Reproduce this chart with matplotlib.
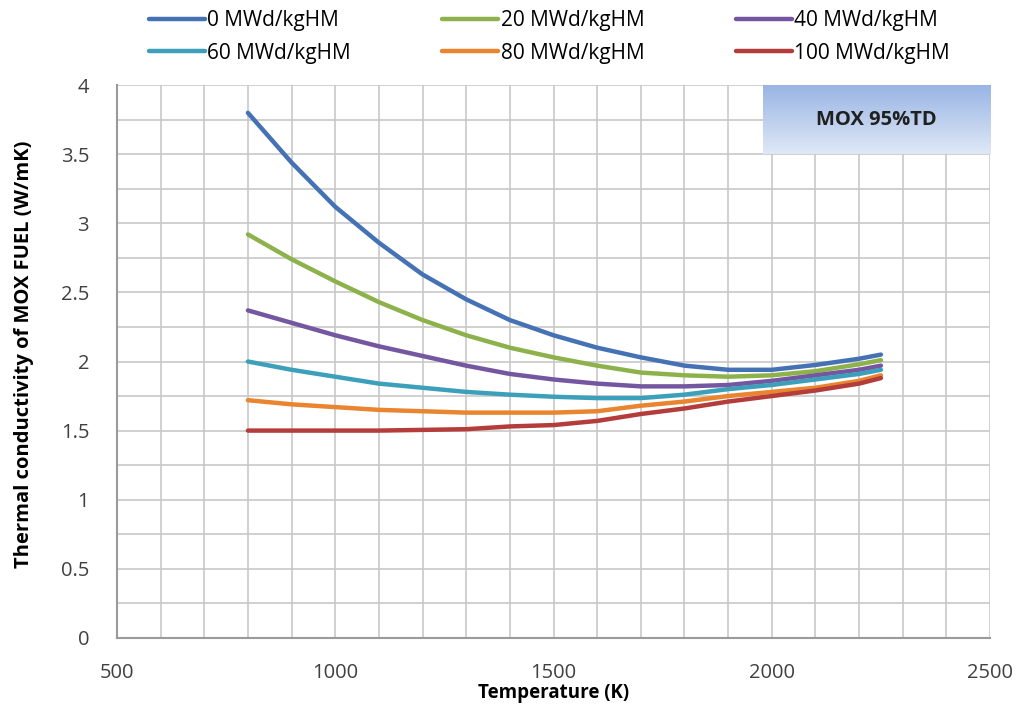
import numpy as np
import matplotlib
matplotlib.use('Agg')
import matplotlib.pyplot as plt
from matplotlib.colors import LinearSegmentedColormap

plt.rcParams['font.family'] = ['Open Sans', 'DejaVu Sans']

# temperatures (K) and conductivity (W/mK)
temps = [800, 900, 1000, 1100, 1200, 1300, 1400, 1500,
         1600, 1700, 1800, 1900, 2000, 2100, 2200, 2250]
k_0 = [3.80, 3.44, 3.12, 2.86, 2.63, 2.45, 2.30, 2.19,
       2.10, 2.03, 1.97, 1.94, 1.94, 1.975, 2.02, 2.05]
k_20 = [2.92, 2.74, 2.58, 2.43, 2.30, 2.19, 2.10, 2.03,
        1.97, 1.92, 1.90, 1.89, 1.90, 1.93, 1.98, 2.01]
k_40 = [2.37, 2.28, 2.19, 2.11, 2.04, 1.97, 1.91, 1.87,
        1.84, 1.82, 1.82, 1.83, 1.86, 1.90, 1.94, 1.97]
k_60 = [2.00, 1.94, 1.89, 1.84, 1.81, 1.78, 1.76, 1.745,
        1.735, 1.735, 1.76, 1.80, 1.83, 1.87, 1.91, 1.94]
k_80 = [1.72, 1.69, 1.67, 1.65, 1.64, 1.63, 1.63, 1.63,
        1.64, 1.68, 1.71, 1.75, 1.78, 1.81, 1.86, 1.90]
k_100 = [1.50, 1.50, 1.50, 1.50, 1.505, 1.51, 1.53, 1.54,
         1.57, 1.62, 1.66, 1.71, 1.75, 1.79, 1.84, 1.88]

labels = ['0 MWd/kgHM', '20 MWd/kgHM', '40 MWd/kgHM',
          '60 MWd/kgHM', '80 MWd/kgHM', '100 MWd/kgHM']
colors = ['#4472b4', '#8db24c', '#7457a0', '#3ca0ba', '#e9842f', '#b43c3a']
series = [k_0, k_20, k_40, k_60, k_80, k_100]

fig = plt.figure(figsize=(10.17, 7.04), dpi=100)
ax = fig.add_axes([0.115, 0.094, 0.8585, 0.785])

lines = []
for ys, c, lab in zip(series, colors, labels):
    ln, = ax.plot(temps, ys, color=c, lw=3.2, label=lab, solid_capstyle='round',
                  solid_joinstyle='round', zorder=4)
    lines.append(ln)

ax.set_xlim(500, 2500)
ax.set_ylim(0, 4)
ax.set_xticks(np.arange(500, 2501, 500))
ax.set_yticks(np.arange(0, 4.01, 0.5))
ax.set_yticklabels(['0', '0.5', '1', '1.5', '2', '2.5', '3', '3.5', '4'])
ax.set_xticks(np.arange(500, 2501, 100), minor=True)
ax.set_yticks(np.arange(0, 4.01, 0.25), minor=True)
ax.grid(True, which='both', color='#c8c8c8', lw=1.2, zorder=0)
ax.set_axisbelow(True)
ax.tick_params(which='both', length=0, labelsize=14.5, colors='#404040')
ax.tick_params(axis='y', pad=20)
ax.tick_params(axis='x', pad=18)
for s in ['top', 'right']:
    ax.spines[s].set_visible(False)
for s in ['left', 'bottom']:
    ax.spines[s].set_color('#9a9a9a')
    ax.spines[s].set_linewidth(1.5)

# gradient label box in the top right corner
cmap = LinearSegmentedColormap.from_list('box', ['#dfe8f6', '#98b4e4'])
grad = np.linspace(1, 0, 100).reshape(-1, 1)
ax.imshow(grad, cmap=cmap, extent=[1980, 2500, 3.5, 4], aspect='auto', zorder=3)
ax.text(2240, 3.75, 'MOX 95%TD', ha='center', va='center', fontsize=14.5,
        fontweight='bold', color='#202020', zorder=5)
ax.set_xlim(500, 2500)
ax.set_ylim(0, 4)

ax.set_ylabel('Thermal conductivity of MOX FUEL (W/mK)', fontsize=14.5,
              fontweight='bold')
ax.yaxis.set_label_coords(-0.095, 0.513)
fig.text(0.544, 0.016, 'Temperature (K)', ha='center', va='center',
         fontsize=13.5, fontweight='bold')

order = [0, 3, 1, 4, 2, 5]
fig.legend([lines[i] for i in order], [labels[i] for i in order],
           loc='upper center', bbox_to_anchor=(0.54, 1.012), ncol=3,
           frameon=False, fontsize=15, handlelength=2.7, handletextpad=0.1,
           columnspacing=4.4, labelspacing=0.55)

plt.savefig('out.png', dpi=100)
